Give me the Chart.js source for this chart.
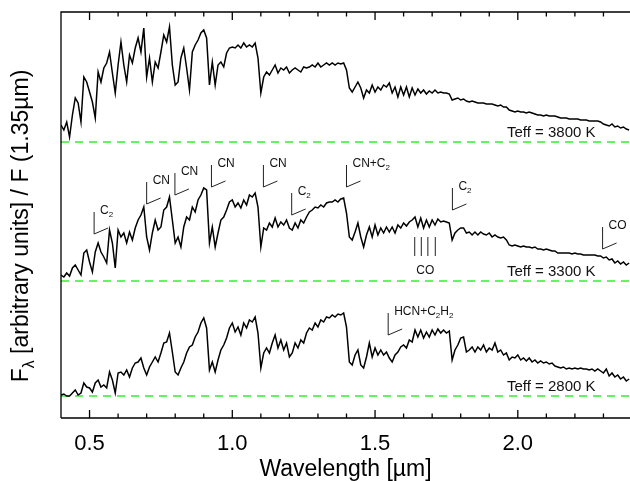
<!DOCTYPE html>
<html lang="en">
<head>
<meta charset="UTF-8">
<title>Carbon star spectra</title>
<script src="https://cdn.jsdelivr.net/npm/chart.js"></script>
<style>
    body {
        margin: 0;
        padding: 0;
        background: #fff;
    }
    .wrap {
        position: relative;
        width: 630px;
        height: 481px;
    }
</style>
</head>
<body>

<div class="wrap"><canvas id="spectraChart"></canvas></div>

<script>
    // wavelength grid in micron
    const wavelength = [
        0.40, 0.41, 0.42, 0.43, 0.44, 0.45, 0.46, 0.47, 0.48, 0.49,
        0.50, 0.51, 0.52, 0.53, 0.54, 0.55, 0.56, 0.57, 0.58, 0.59,
        0.60, 0.61, 0.62, 0.63, 0.64, 0.65, 0.66, 0.67, 0.68, 0.69,
        0.70, 0.71, 0.72, 0.73, 0.74, 0.75, 0.76, 0.77, 0.78, 0.79,
        0.80, 0.81, 0.82, 0.83, 0.84, 0.85, 0.86, 0.87, 0.88, 0.89,
        0.90, 0.91, 0.92, 0.93, 0.94, 0.95, 0.96, 0.97, 0.98, 0.99,
        1.00, 1.01, 1.02, 1.03, 1.04, 1.05, 1.06, 1.07, 1.08, 1.09,
        1.10, 1.11, 1.12, 1.13, 1.14, 1.15, 1.16, 1.17, 1.18, 1.19,
        1.20, 1.21, 1.22, 1.23, 1.24, 1.25, 1.26, 1.27, 1.28, 1.29,
        1.30, 1.31, 1.32, 1.33, 1.34, 1.35, 1.36, 1.37, 1.38, 1.39,
        1.40, 1.41, 1.42, 1.43, 1.44, 1.45, 1.46, 1.47, 1.48, 1.49,
        1.50, 1.51, 1.52, 1.53, 1.54, 1.55, 1.56, 1.57, 1.58, 1.59,
        1.60, 1.61, 1.62, 1.63, 1.64, 1.65, 1.66, 1.67, 1.68, 1.69,
        1.70, 1.71, 1.72, 1.73, 1.74, 1.75, 1.76, 1.77, 1.78, 1.79,
        1.80, 1.81, 1.82, 1.83, 1.84, 1.85, 1.86, 1.87, 1.88, 1.89,
        1.90, 1.91, 1.92, 1.93, 1.94, 1.95, 1.96, 1.97, 1.98, 1.99,
        2.00, 2.01, 2.02, 2.03, 2.04, 2.05, 2.06, 2.07, 2.08, 2.09,
        2.10, 2.11, 2.12, 2.13, 2.14, 2.15, 2.16, 2.17, 2.18, 2.19,
        2.20, 2.21, 2.22, 2.23, 2.24, 2.25, 2.26, 2.27, 2.28, 2.29,
        2.30, 2.31, 2.32, 2.33, 2.34, 2.35, 2.36, 2.37, 2.38, 2.39
    ];

    // fluxes, arbitrary units (about 80 = F at 1.35um)
    const flux3800 = [
        17, 12, 20, 5, 27, 44, 39, 20, 65, 60,
        50, 40, 24, 70, 60, 74, 79, 90, 69, 49,
        77, 100, 77, 60, 87, 79, 94, 104, 90, 114,
        65, 84, 60, 80, 74, 90, 107, 100, 115, 77,
        57, 60, 84, 94, 74, 52, 90, 97, 102, 109,
        112, 104, 57, 80, 57, 77, 80, 75, 89, 94,
        95, 94, 97, 94, 99, 95, 97, 95, 99, 84,
        49, 65, 70, 67, 72, 77, 69, 74, 72, 75,
        69, 72, 74, 72, 70, 75, 74, 75, 77, 75,
        79, 75, 77, 79, 77, 79, 77, 79, 78, 79,
        72, 54, 50, 55, 60, 54, 44, 52, 49, 57,
        50, 55, 52, 57, 55, 59, 49, 55, 45, 55,
        47, 55, 45, 54, 47, 53, 49, 52, 48, 51,
        49, 52, 49, 50, 49, 49, 48, 42, 43, 44,
        42, 43, 41, 40, 41, 40, 39, 39, 39, 38,
        38, 38, 37, 36, 37, 35, 35, 32, 31, 30,
        31, 30, 30, 29, 30, 29, 28, 27, 27, 26,
        27, 26, 26, 26, 25, 24, 24, 24, 23, 23,
        23, 23, 22, 22, 22, 21, 21, 21, 21, 20,
        18, 17, 16, 18, 15, 16, 14, 15, 13, 12
    ];
    const flux3300 = [
        6, 4, 8, 5, 13, 16, 11, 6, 28, 31,
        19, 9, 29, 38, 29, 24, 18, 51, 38, 13,
        51, 44, 48, 38, 49, 41, 53, 61, 66, 74,
        44, 31, 48, 61, 51, 54, 71, 74, 84, 61,
        38, 44, 34, 54, 64, 61, 74, 69, 81, 86,
        93, 91, 38, 54, 34, 48, 61, 64, 71, 79,
        81, 74, 78, 73, 81, 76, 86, 84, 88, 74,
        34, 53, 51, 58, 54, 63, 54, 59, 56, 61,
        53, 51, 58, 53, 61, 58, 64, 69, 71, 74,
        73, 76, 74, 78, 79, 79, 81, 79, 82, 83,
        68, 44, 41, 49, 58, 44, 34, 46, 54, 44,
        56, 46, 53, 48, 54, 49, 54, 48, 56, 53,
        58, 55, 59, 61, 64, 54, 63, 53, 61, 54,
        61, 56, 62, 59, 60, 59, 58, 41, 48, 51,
        53, 53, 48, 49, 46, 49, 46, 49, 47, 46,
        48, 44, 46, 44, 43, 44, 41, 36, 35, 36,
        35, 34, 35, 34, 34, 33, 34, 32, 32, 31,
        32, 31, 30, 30, 28, 28, 28, 28, 28, 27,
        28, 27, 27, 26, 26, 26, 26, 26, 25, 25,
        23, 24, 21, 22, 18, 20, 17, 19, 16, 18
    ];
    const flux2800 = [
        1, 2, 0, 0, 3, 6, 1, 3, 13, 9,
        8, 4, 13, 16, 9, 11, 8, 24, 16, 3,
        23, 24, 21, 26, 19, 28, 33, 34, 38, 28,
        21, 29, 34, 39, 34, 43, 53, 54, 63, 44,
        24, 21, 28, 34, 43, 49, 51, 59, 64, 73,
        78, 68, 26, 34, 24, 36, 46, 51, 58, 68,
        73, 64, 69, 61, 73, 68, 76, 74, 79, 63,
        28, 43, 48, 43, 53, 61, 48, 56, 46, 53,
        39, 43, 53, 48, 56, 53, 63, 68, 66, 73,
        69, 76, 74, 79, 78, 81, 79, 82, 81, 83,
        69, 34, 31, 41, 46, 31, 28, 39, 53, 39,
        48, 41, 46, 41, 44, 38, 34, 41, 44, 49,
        51, 48, 56, 54, 66, 59, 66, 58, 64, 59,
        66, 61, 67, 63, 66, 63, 65, 36, 46, 51,
        58, 59, 44, 46, 49, 44, 49, 46, 51, 44,
        48, 46, 53, 44, 46, 41, 43, 36, 39, 38,
        41, 36, 38, 35, 38, 34, 36, 33, 35, 33,
        34, 32, 33, 30, 29, 28, 29, 27, 28, 27,
        28, 27, 28, 27, 27, 26, 27, 25, 27, 25,
        23, 27, 20, 23, 19, 21, 17, 19, 15, 17
    ];

    const temps = ['3800', '3300', '2800'];
    const offsets = [254, 115, 0];      // vertical shift of each spectrum
    const xTicks = [0.5, 1.0, 1.5, 2.0];

    // band identifications ('_' = next char is a subscript)
    const bandLabels = ['C_2', 'CN', 'CN', 'CN', 'CN', 'C_2', 'CN+C_2', 'C_2', 'CO', 'HCN+C_2H_2'];
    const bandWave = [0.516, 0.700, 0.799, 0.927, 1.109, 1.208, 1.400, 1.771, 2.297, 1.546];
    const bandTop = [184, 214, 223, 231, 231, 203, 231, 208, 169, 83];
    const coLines = [1.639, 1.662, 1.685, 1.711];

    const FONT = 'Arial, "Liberation Sans", sans-serif';
    const X_MIN = 0.4, X_MAX = 2.393;

    // split text into normal / subscript runs
    function runs(text) {
        const out = [];
        for (let i = 0; i < text.length; i++) {
            if (text[i] === '_') {
                out.push({ t: text[i + 1], sub: true });
                i++;
            } else if (out.length && !out[out.length - 1].sub) {
                out[out.length - 1].t += text[i];
            } else {
                out.push({ t: text[i], sub: false });
            }
        }
        return out;
    }

    function richText(ctx, text, x, y, size, draw) {
        let cx = x;
        runs(text).forEach(r => {
            const s = r.sub ? Math.round(size * 0.68) : size;
            ctx.font = s + 'px ' + FONT;
            if (draw) ctx.fillText(r.t, cx, r.sub ? y + size * 0.32 : y);
            cx += ctx.measureText(r.t).width;
        });
        return cx - x;
    }

    // frame, tick marks, labels and band markers
    const decor = {
        id: 'decor',
        afterDatasetsDraw(chart) {
            const { ctx, chartArea: a, scales: { x, y } } = chart;
            ctx.save();
            ctx.strokeStyle = '#000';
            ctx.lineWidth = 1.3;
            ctx.beginPath();
            ctx.moveTo(a.left, a.bottom);
            ctx.lineTo(a.left, a.top);
            ctx.lineTo(a.right, a.top);
            ctx.moveTo(a.left, a.bottom);
            ctx.lineTo(a.right, a.bottom);
            for (let k = 5; k <= 23; k++) {
                const px = x.getPixelForValue(k / 10);
                const len = k % 5 === 0 ? 8 : 4.5;
                ctx.moveTo(px, a.bottom);
                ctx.lineTo(px, a.bottom - len);
                ctx.moveTo(px, a.top);
                ctx.lineTo(px, a.top + len);
            }
            ctx.stroke();

            // band markers
            ctx.lineWidth = 1;
            ctx.strokeStyle = '#222';
            ctx.fillStyle = '#111';
            ctx.textBaseline = 'middle';
            ctx.textAlign = 'left';
            bandLabels.forEach((lab, i) => {
                const px = x.getPixelForValue(bandWave[i]);
                const py = y.getPixelForValue(bandTop[i]);
                ctx.beginPath();
                ctx.moveTo(px, py);
                ctx.lineTo(px, py + 22);
                ctx.lineTo(px + 14, py + 16);
                ctx.stroke();
                richText(ctx, lab, px + 6, py - 1, 12, true);
            });

            // CO bandheads in the H band
            ctx.beginPath();
            coLines.forEach(w => {
                const px = x.getPixelForValue(w);
                ctx.moveTo(px, y.getPixelForValue(159));
                ctx.lineTo(px, y.getPixelForValue(140));
            });
            ctx.stroke();
            ctx.font = '12px ' + FONT;
            ctx.textAlign = 'center';
            ctx.fillText('CO', x.getPixelForValue(1.676), y.getPixelForValue(125));

            // temperature labels
            ctx.textAlign = 'left';
            ctx.font = '15px ' + FONT;
            temps.forEach((t, k) => {
                ctx.fillText('Teff = ' + t + ' K', x.getPixelForValue(1.962), y.getPixelForValue(offsets[k] + 9));
            });

            // y axis title
            ctx.save();
            ctx.translate(22, 226);
            ctx.rotate(-Math.PI / 2);
            ctx.fillStyle = '#000';
            const title = 'F_λ [arbitrary units] / F (1.35µm)';
            const w = richText(ctx, title, 0, 0, 23, false);
            richText(ctx, title, -w / 2, 0, 23, true);
            ctx.restore();

            ctx.restore();
        }
    };

    const datasets = [flux3800, flux3300, flux2800].map((f, k) => ({
        label: 'Teff = ' + temps[k] + ' K',
        data: wavelength.map((w, i) => ({ x: w, y: offsets[k] + f[i] })),
        borderColor: '#000',
        borderWidth: 1.5,
        pointRadius: 0,
        tension: 0
    }));

    // zero level of each spectrum
    offsets.forEach(off => {
        datasets.push({
            data: [{ x: X_MIN, y: off }, { x: X_MAX, y: off }],
            borderColor: '#33ee33',
            borderWidth: 1.5,
            borderDash: [8, 6],
            pointRadius: 0
        });
    });

    const ctx = document.getElementById('spectraChart').getContext('2d');
    new Chart(ctx, {
        type: 'line',
        data: { datasets: datasets },
        options: {
            responsive: true,
            maintainAspectRatio: false,
            animation: false,
            layout: { padding: { top: 12, left: 61, right: 0, bottom: 0 } },
            plugins: {
                legend: { display: false },
                tooltip: { enabled: false }
            },
            scales: {
                x: {
                    type: 'linear',
                    min: X_MIN,
                    max: X_MAX,
                    afterBuildTicks: axis => { axis.ticks = xTicks.map(v => ({ value: v })); },
                    afterFit: axis => { axis.height = 63; },
                    grid: { display: false, drawTicks: false },
                    border: { display: false },
                    ticks: {
                        padding: 13,
                        color: '#000',
                        font: { family: FONT, size: 22 },
                        maxRotation: 0,
                        callback: v => v.toFixed(1)
                    },
                    title: {
                        display: true,
                        text: 'Wavelength [µm]',
                        color: '#000',
                        padding: 0,
                        font: { family: FONT, size: 23, lineHeight: 1 }
                    }
                },
                y: {
                    display: false,
                    min: -22,
                    max: 384
                }
            }
        },
        plugins: [decor]
    });
</script>

</body>
</html>
